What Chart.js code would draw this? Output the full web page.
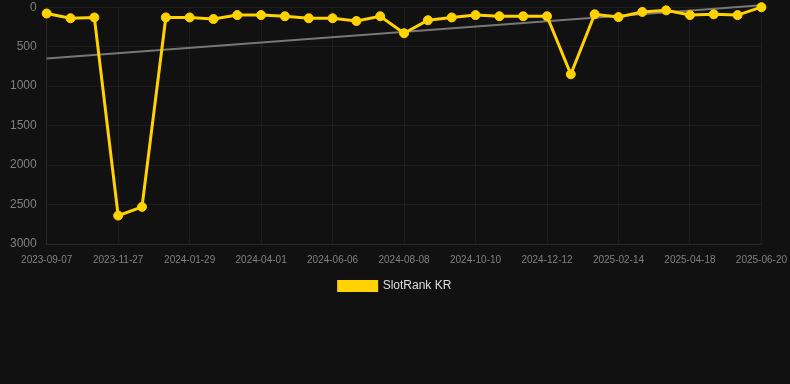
<!DOCTYPE html>
<html>
<head>
<meta charset="utf-8">
<script src="https://cdn.jsdelivr.net/npm/chart.js@4.4.1/dist/chart.umd.min.js"></script>
<style>
    html, body { margin: 0; padding: 0; background: #111111; }
    #wrap { width: 790px; height: 302px; position: relative; }
</style>
</head>
<body>
<div id="wrap"><canvas id="rank-chart"></canvas></div>
<script>
// dates on the x axis (only every 3rd one gets printed):
const dates = [
    '2023-09-07', '2023-10-04', '2023-10-31', '2023-11-27', '2023-12-18', '2024-01-08',
    '2024-01-29', '2024-02-19', '2024-03-11', '2024-04-01', '2024-04-23', '2024-05-15',
    '2024-06-06', '2024-06-27', '2024-07-18', '2024-08-08', '2024-08-29', '2024-09-19',
    '2024-10-10', '2024-10-31', '2024-11-21', '2024-12-12', '2025-01-02', '2025-01-23',
    '2025-02-14', '2025-03-07', '2025-03-28', '2025-04-18', '2025-05-09', '2025-05-30',
    '2025-06-20'
];

// rank values:
const rankKR = [
    80, 140, 130, 2640, 2530, 130, 130, 150, 100, 100, 115,
    140, 140, 175, 115, 330, 165, 130, 100, 115, 115, 115,
    850, 90, 125, 60, 40, 100, 90, 100, 0
];

// trend line, just the two ends:
const trendKR = [650, null, null, null, null, null, null, null, null, null, null,
    null, null, null, null, null, null, null, null, null, null, null,
    null, null, null, null, null, null, null, null, -25];

const yTicks = [0, 500, 1000, 1500, 2000, 2500, 3000];

const gold = '#ffd200';
const gridColor = 'rgba(255,255,255,0.05)';
const tickColor = '#808080';
const fontFam = 'Arial, Liberation Sans, sans-serif';

new Chart(document.getElementById('rank-chart'), {
    type: 'line',
    data: {
        labels: dates,
        datasets: [{
            label: 'SlotRank KR',
            data: rankKR,
            borderColor: gold,
            backgroundColor: gold,
            borderWidth: 3,
            pointRadius: 4.5,
            pointBorderWidth: 1,
            pointHoverRadius: 5,
            pointBackgroundColor: gold,
            pointBorderColor: gold,
            tension: 0,
            clip: false
        }, {
            label: 'trend',
            data: trendKR,
            borderColor: '#777777',
            borderWidth: 2,
            pointRadius: 0,
            spanGaps: true,
            clip: false
        }]
    },
    options: {
        responsive: true,
        maintainAspectRatio: false,
        animation: false,
        layout: { padding: 0 },
        plugins: {
            legend: {
                position: 'bottom',
                labels: {
                    color: '#dddddd',
                    font: { family: fontFam, size: 12 },
                    boxWidth: 38,
                    boxHeight: 9,
                    padding: 11,
                    filter: item => item.text !== 'trend'
                }
            },
            tooltip: { enabled: false }
        },
        scales: {
            x: {
                // tick marks kept only for spacing, drawn invisible
                grid: { color: gridColor, tickLength: 7, tickColor: 'transparent' },
                border: { color: gridColor },
                ticks: {
                    color: tickColor,
                    autoSkip: false,
                    maxRotation: 0,
                    padding: 3,
                    font: { family: fontFam, size: 10 },
                    callback: function (val, i) {
                        return i % 3 === 0 ? dates[i] : null;
                    }
                }
            },
            y: {
                reverse: true,
                min: 0,
                max: 3000,
                grid: { color: gridColor, tickLength: 10, tickColor: 'transparent' },
                border: { color: gridColor },
                afterBuildTicks: axis => { axis.ticks = yTicks.map(v => ({ value: v })); },
                // a bit of room left of the labels
                afterFit: axis => { axis.width += 10; },
                ticks: {
                    color: tickColor,
                    padding: 0,
                    font: { family: fontFam, size: 12 },
                    callback: v => String(v)
                }
            }
        }
    }
});
</script>
</body>
</html>
